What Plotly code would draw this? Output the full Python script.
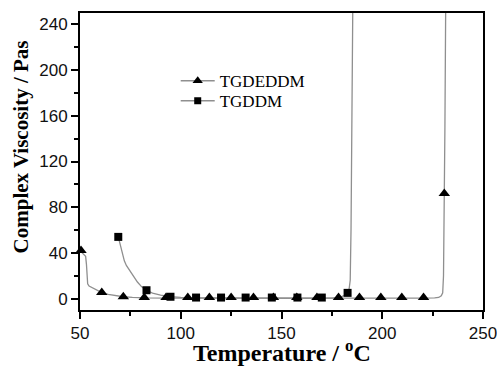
import plotly.graph_objects as go

# Measured markers (temperature in °C, complex viscosity in Pa·s)
tgdeddm_temp = [50.5, 60.8, 71.5, 81.9, 92.7, 103.5, 114.2, 125.0, 136.1, 146.0,
                157.6, 167.6, 178.3, 188.7, 199.3, 209.7, 220.5, 230.8]
tgdeddm_visc = [42, 5.3, 1.5, 0.9, 0.9, 0.9, 0.9, 0.9, 0.9, 0.9,
                0.9, 0.9, 0.9, 0.9, 0.9, 0.9, 0.9, 92]

tgddm_temp = [69.0, 83.0, 94.9, 107.6, 120.0, 132.2, 145.2, 157.9, 170.0, 182.8]
tgddm_visc = [54, 7.3, 1.6, 0.9, 0.9, 0.9, 0.9, 0.9, 0.9, 5]

# Continuous measurement curves
tgdeddm_curve_temp = [50, 51, 52, 52.8, 53.2, 53.5, 53.8, 54.5, 56, 58, 60.8, 64, 68,
                      71.5, 76, 82, 95, 120, 150, 180, 200, 220, 226, 228, 229.3,
                      230.0, 230.4, 230.6, 230.8, 231.1, 231.5]
tgdeddm_curve_visc = [42, 40, 38.5, 37, 30, 18, 13, 11, 9.5, 7.8, 5.3, 3.6, 2.4,
                      1.6, 1.0, 0.6, 0.4, 0.3, 0.3, 0.3, 0.3, 0.4, 0.6, 1.0, 2.5,
                      5, 20, 50, 92, 150, 260]

tgddm_curve_temp = [69, 70, 71, 72, 73, 74.5, 76.5, 78.5, 80.5, 83, 86, 90, 95, 100,
                    110, 130, 160, 175, 179, 181, 182.8, 183.6, 184.1, 184.5, 184.9,
                    185.4]
tgddm_curve_visc = [54, 47, 40, 33, 29, 25, 19.5, 14.5, 10.5, 7.3, 4.8, 3, 1.6, 1.0,
                    0.6, 0.3, 0.3, 0.4, 1.0, 2.5, 5, 9, 16, 60, 150, 260]

x_range = [50, 250]
y_range = [-10, 250]

LINE_GRAY = "#8f8f8f"
SERIF = "Liberation Serif"
SANS = "Liberation Sans"

fig = go.Figure()

# Gray curves
fig.add_trace(go.Scatter(x=tgdeddm_curve_temp, y=tgdeddm_curve_visc, mode="lines",
                         line=dict(color=LINE_GRAY, width=1.3), showlegend=False,
                         hoverinfo="skip"))
fig.add_trace(go.Scatter(x=tgddm_curve_temp, y=tgddm_curve_visc, mode="lines",
                         line=dict(color=LINE_GRAY, width=1.3), showlegend=False,
                         hoverinfo="skip"))

# Black symbols
fig.add_trace(go.Scatter(x=tgdeddm_temp, y=tgdeddm_visc, mode="markers",
                         marker=dict(symbol="triangle-up", size=10, color="black"),
                         showlegend=False, cliponaxis=False))
fig.add_trace(go.Scatter(x=tgddm_temp, y=tgddm_visc, mode="markers",
                         marker=dict(symbol="square", size=8, color="black"),
                         showlegend=False, cliponaxis=False))

# Legend entries: line–symbol–line, one per legend box for tight row spacing
fig.add_trace(go.Scatter(x=[None], y=[None], mode="lines+markers", name="TGDEDDM",
                         line=dict(color=LINE_GRAY, width=1.3),
                         marker=dict(symbol="triangle-up", size=9, color="black"),
                         legend="legend"))
fig.add_trace(go.Scatter(x=[None], y=[None], mode="lines+markers", name="TGDDM",
                         line=dict(color=LINE_GRAY, width=1.3),
                         marker=dict(symbol="square", size=7, color="black"),
                         legend="legend2"))

axis_common = dict(
    showgrid=False, zeroline=False, showline=True, linecolor="black", linewidth=2,
    mirror=True, ticks="outside", ticklen=7, tickwidth=1.5, tickcolor="black",
    tickfont=dict(family=SANS, size=17, color="#111111"),
    ticklabeloverflow="allow", automargin=False,
)

fig.update_xaxes(range=x_range, tickmode="linear", tick0=50, dtick=50,
                 minor=dict(ticks="outside", ticklen=4, tickwidth=1.5,
                            tickcolor="black", dtick=25),
                 **axis_common)
fig.update_yaxes(range=y_range, tickmode="linear", tick0=0, dtick=40,
                 minor=dict(ticks="outside", ticklen=4, tickwidth=1.5,
                            tickcolor="black", dtick=20),
                 **axis_common)

legend_style = dict(xanchor="left", yanchor="top", bgcolor="rgba(0,0,0,0)",
                    font=dict(family=SERIF, size=17, color="black"), itemwidth=34)

fig.update_layout(
    width=497, height=366,
    margin=dict(l=80, r=14, t=13, b=56),
    plot_bgcolor="white", paper_bgcolor="white",
    legend=dict(x=0.2375, y=0.831, **legend_style),
    legend2=dict(x=0.2375, y=0.7636, **legend_style),
    annotations=[
        dict(text="Temperature / <sup>o</sup>C", xref="paper", yref="paper",
             x=0.5, y=-0.080, xanchor="center", yanchor="top", showarrow=False,
             font=dict(family=SERIF, size=24, color="black", weight="bold")),
        dict(text="Complex Viscosity / Pas", xref="paper", yref="paper",
             x=-0.146, y=0.548, xanchor="center", yanchor="middle", showarrow=False,
             textangle=-90,
             font=dict(family=SERIF, size=21, color="black", weight="bold")),
    ],
)

fig.write_html("out.html")
